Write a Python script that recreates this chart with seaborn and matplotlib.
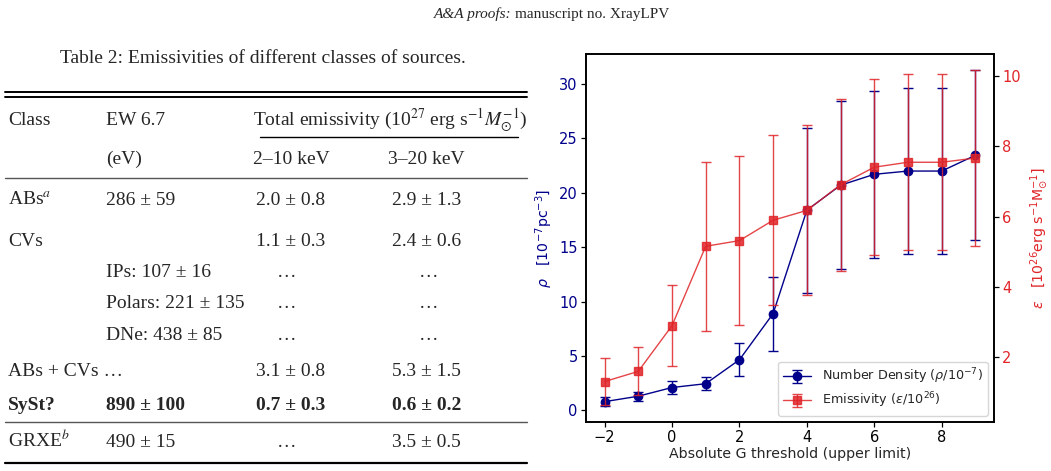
import numpy as np
import pandas as pd
import matplotlib
matplotlib.use("Agg")
import matplotlib.pyplot as plt
import seaborn as sns
from matplotlib.lines import Line2D

# ---------------- data ----------------
g_threshold = [-2, -1, 0, 1, 2, 3, 4, 5, 6, 7, 8, 9]
rho = [0.80, 1.30, 2.10, 2.45, 4.65, 8.90, 18.40, 20.70, 21.70, 22.00, 22.00, 23.45]
rho_err = [0.40, 0.40, 0.60, 0.60, 1.50, 3.40, 7.60, 7.70, 7.65, 7.65, 7.65, 7.80]
eps = [1.31, 1.60, 2.90, 5.16, 5.32, 5.90, 6.18, 6.91, 7.41, 7.55, 7.55, 7.67]
eps_err = [0.68, 0.68, 1.16, 2.40, 2.40, 2.42, 2.42, 2.45, 2.50, 2.50, 2.50, 2.50]

left_ticks = [0, 5, 10, 15, 20, 25, 30]
right_ticks = [2, 4, 6, 8, 10]
x_ticks = [-2, 0, 2, 4, 6, 8]

page_header_italic = "A&A proofs:"
page_header_roman = "manuscript no. XrayLPV"
table_title = "Table 2: Emissivities of different classes of sources."
table_head1 = ["Class", "EW 6.7", r"Total emissivity (10$^{27}$ erg s$^{-1}$$M_{\odot}^{-1}$)"]
table_head2 = ["(eV)", "2–10 keV", "3–20 keV"]
table_class = [r"ABs$^{a}$", "CVs", "", "", "", "ABs + CVs …", "SySt?", r"GRXE$^{b}$"]
table_ew = ["286 ± 59", "", "IPs: 107 ± 16", "Polars: 221 ± 135", "DNe: 438 ± 85", "", "890 ± 100", "490 ± 15"]
table_e210 = ["2.0 ± 0.8", "1.1 ± 0.3", "…", "…", "…", "3.1 ± 0.8", "0.7 ± 0.3", "…"]
table_e320 = ["2.9 ± 1.3", "2.4 ± 0.6", "…", "…", "…", "5.3 ± 1.5", "0.6 ± 0.2", "3.5 ± 0.5"]
table_bold = [False, False, False, False, False, False, True, False]

df = pd.DataFrame({"G": g_threshold, "rho": rho, "rho_err": rho_err,
                   "eps": eps, "eps_err": eps_err})

# ---------------- style ----------------
sns.set_theme(style="ticks", rc={
    "axes.edgecolor": "black", "axes.linewidth": 1.2,
    "xtick.color": "black", "ytick.color": "black",
    "xtick.labelsize": 10.5, "ytick.labelsize": 10.5,
    "xtick.major.size": 3.5, "ytick.major.size": 3.5,
    "xtick.major.width": 0.9, "ytick.major.width": 0.9,
    "axes.labelsize": 10.2, "legend.fontsize": 9.2,
})
plt.rcParams["font.family"] = ["DejaVu Sans"]
plt.rcParams["mathtext.fontset"] = "dejavusans"

W, H = 1051, 471
fig = plt.figure(figsize=(W / 100, H / 100), dpi=100)

def fx(px):
    return px / W

def fy(py):
    return 1 - py / H

# ---------------- page text and table ----------------
serif = ["Liberation Serif", "DejaVu Serif"]
fig.text(fx(511), fy(18), page_header_italic, ha="right", va="baseline",
         family=serif, style="italic", fontsize=11)
fig.text(fx(515), fy(18), page_header_roman, ha="left", va="baseline",
         family=serif, fontsize=11)
fig.text(fx(263), fy(63), table_title, ha="center", va="baseline",
         family=serif, fontsize=14)

def hline(x0, x1, y, lw=1.2, color="black"):
    fig.add_artist(Line2D([fx(x0), fx(x1)], [fy(y), fy(y)], lw=lw, color=color,
                          transform=fig.transFigure))

hline(5, 527, 92, 1.4)
hline(5, 527, 96.5, 1.4)
hline(260, 518, 137, 1.0)
hline(5, 527, 178, 1.0, "#555555")
hline(5, 527, 422, 1.0, "#555555")
hline(5, 527, 463, 1.6)

col_x = [8, 106, 253, 388]
tfs = 14

def ttext(x, y, s, bold=False, ha="left"):
    fig.text(fx(x), fy(y + 6), s, ha=ha, va="baseline", family=serif,
             fontsize=tfs, weight="bold" if bold else "normal",
             math_fontfamily="stix")

ttext(col_x[0], 119, table_head1[0])
ttext(col_x[1], 119, table_head1[1])
ttext(col_x[2], 119, table_head1[2])
ttext(col_x[1], 158, table_head2[0])
ttext(col_x[2], 158, table_head2[1])
ttext(col_x[3], 158, table_head2[2])

row_y = [199, 240, 271, 302, 334, 370, 404, 441]
for i, y in enumerate(row_y):
    b = table_bold[i]
    ttext(col_x[0], y, table_class[i], b)
    ttext(col_x[1], y, table_ew[i], b)
    for s, x0, xc in ((table_e210[i], 256, 287), (table_e320[i], 392, 429)):
        if s == "…":
            ttext(xc, y, s, b, ha="center")
        else:
            ttext(x0, y, s, b)

# ---------------- chart ----------------
blue = "#00008B"
red = "#e02428"
ax = fig.add_axes([fx(586), fy(422), fx(994) - fx(586), fy(54) - fy(422)])
ax2 = ax.twinx()

e1 = ax.errorbar(df["G"], df["rho"], yerr=df["rho_err"], fmt="-o", color=blue,
                 ms=6, lw=1.0, elinewidth=1.0, capsize=3.5,
                 label=r"Number Density ($\rho/10^{-7}$)")
e2 = ax2.errorbar(df["G"], df["eps"], yerr=df["eps_err"], fmt="-s", color=red,
                  ms=6, lw=1.0, elinewidth=1.0, capsize=3.5, alpha=0.85,
                  label=r"Emissivity ($\varepsilon/10^{26}$)")

ax.set_xlim(-2.55, 9.55)
ax.set_ylim(-1.07, 32.76)
ax2.set_ylim(0.16, 10.63)
ax.set_xticks(x_ticks)
ax.set_yticks(left_ticks)
ax2.set_yticks(right_ticks)
ax.tick_params(axis="y", labelcolor=blue, pad=2.5)
ax2.tick_params(axis="y", labelcolor=red, pad=2.5)
ax.tick_params(axis="x", pad=2.5)
ax.set_xlabel("Absolute G threshold (upper limit)", labelpad=1)
ax.set_ylabel(r"$\rho$   [10$^{-7}$pc$^{-3}$]", color=blue, labelpad=3)
ax2.set_ylabel(r"$\varepsilon$   [10$^{26}$erg s$^{-1}$M$_{\odot}^{-1}$]", color=red, labelpad=5)
for sp in ax2.spines.values():
    sp.set_color("black")
    sp.set_linewidth(1.2)

ax2.legend([e1, e2], [e1.get_label(), e2.get_label()], loc="lower right",
           frameon=True, fancybox=True, labelspacing=0.35, borderpad=0.4,
           handlelength=2.2)

fig.savefig("out.png", dpi=100)
